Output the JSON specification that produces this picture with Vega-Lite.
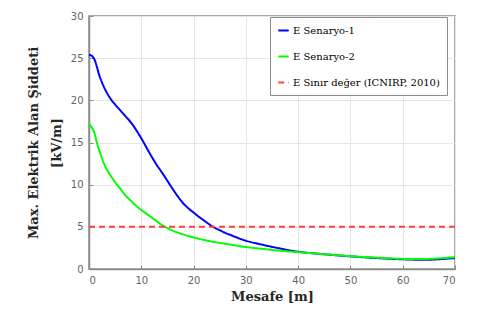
{
  "$schema": "https://vega.github.io/schema/vega-lite/v6.json",
  "width": 366,
  "height": 253,
  "autosize": {"type": "none"},
  "padding": {"left": 89, "top": 16, "right": 22, "bottom": 56},
  "background": "white",
  "config": {
    "view": {"stroke": "#8c8c8c", "strokeWidth": 1.5},
    "axis": {
      "labelFont": "DejaVu Sans",
      "labelFontSize": 10,
      "labelColor": "#666666",
      "titleFont": "DejaVu Serif",
      "titleFontSize": 13,
      "titleFontWeight": "bold",
      "titleColor": "#262626",
      "gridColor": "#e6e6e6",
      "gridWidth": 1,
      "domainColor": "#8c8c8c",
      "domainWidth": 1.5,
      "tickColor": "#8c8c8c",
      "tickSize": -4
    }
  },
  "data": {
    "values": [
      {"x": 0, "E": 25.4, "s": "E Senaryo-1"},
      {"x": 0.5, "E": 25.3, "s": "E Senaryo-1"},
      {"x": 1, "E": 24.9, "s": "E Senaryo-1"},
      {"x": 1.5, "E": 24.0, "s": "E Senaryo-1"},
      {"x": 2, "E": 22.9, "s": "E Senaryo-1"},
      {"x": 3, "E": 21.4, "s": "E Senaryo-1"},
      {"x": 4, "E": 20.3, "s": "E Senaryo-1"},
      {"x": 5, "E": 19.5, "s": "E Senaryo-1"},
      {"x": 6, "E": 18.8, "s": "E Senaryo-1"},
      {"x": 7, "E": 18.1, "s": "E Senaryo-1"},
      {"x": 8, "E": 17.4, "s": "E Senaryo-1"},
      {"x": 9, "E": 16.5, "s": "E Senaryo-1"},
      {"x": 10, "E": 15.5, "s": "E Senaryo-1"},
      {"x": 11, "E": 14.4, "s": "E Senaryo-1"},
      {"x": 12, "E": 13.3, "s": "E Senaryo-1"},
      {"x": 13, "E": 12.3, "s": "E Senaryo-1"},
      {"x": 14, "E": 11.4, "s": "E Senaryo-1"},
      {"x": 15, "E": 10.45, "s": "E Senaryo-1"},
      {"x": 16, "E": 9.5, "s": "E Senaryo-1"},
      {"x": 17, "E": 8.6, "s": "E Senaryo-1"},
      {"x": 18, "E": 7.8, "s": "E Senaryo-1"},
      {"x": 19, "E": 7.2, "s": "E Senaryo-1"},
      {"x": 20, "E": 6.7, "s": "E Senaryo-1"},
      {"x": 21, "E": 6.2, "s": "E Senaryo-1"},
      {"x": 22, "E": 5.75, "s": "E Senaryo-1"},
      {"x": 23, "E": 5.3, "s": "E Senaryo-1"},
      {"x": 24, "E": 4.9, "s": "E Senaryo-1"},
      {"x": 25, "E": 4.6, "s": "E Senaryo-1"},
      {"x": 26, "E": 4.3, "s": "E Senaryo-1"},
      {"x": 27, "E": 4.05, "s": "E Senaryo-1"},
      {"x": 28, "E": 3.8, "s": "E Senaryo-1"},
      {"x": 30, "E": 3.35, "s": "E Senaryo-1"},
      {"x": 33, "E": 2.9, "s": "E Senaryo-1"},
      {"x": 36, "E": 2.5, "s": "E Senaryo-1"},
      {"x": 40, "E": 2.05, "s": "E Senaryo-1"},
      {"x": 45, "E": 1.75, "s": "E Senaryo-1"},
      {"x": 50, "E": 1.5, "s": "E Senaryo-1"},
      {"x": 55, "E": 1.3, "s": "E Senaryo-1"},
      {"x": 60, "E": 1.15, "s": "E Senaryo-1"},
      {"x": 65, "E": 1.1, "s": "E Senaryo-1"},
      {"x": 70, "E": 1.3, "s": "E Senaryo-1"},
      {"x": 0, "E": 17.2, "s": "E Senaryo-2"},
      {"x": 0.5, "E": 16.8, "s": "E Senaryo-2"},
      {"x": 1, "E": 16.2, "s": "E Senaryo-2"},
      {"x": 1.5, "E": 15.0, "s": "E Senaryo-2"},
      {"x": 2, "E": 14.0, "s": "E Senaryo-2"},
      {"x": 3, "E": 12.3, "s": "E Senaryo-2"},
      {"x": 4, "E": 11.2, "s": "E Senaryo-2"},
      {"x": 5, "E": 10.3, "s": "E Senaryo-2"},
      {"x": 6, "E": 9.5, "s": "E Senaryo-2"},
      {"x": 7, "E": 8.7, "s": "E Senaryo-2"},
      {"x": 8, "E": 8.1, "s": "E Senaryo-2"},
      {"x": 9, "E": 7.5, "s": "E Senaryo-2"},
      {"x": 10, "E": 7.0, "s": "E Senaryo-2"},
      {"x": 11, "E": 6.55, "s": "E Senaryo-2"},
      {"x": 12, "E": 6.1, "s": "E Senaryo-2"},
      {"x": 13, "E": 5.65, "s": "E Senaryo-2"},
      {"x": 14, "E": 5.2, "s": "E Senaryo-2"},
      {"x": 15, "E": 4.85, "s": "E Senaryo-2"},
      {"x": 16, "E": 4.55, "s": "E Senaryo-2"},
      {"x": 18, "E": 4.1, "s": "E Senaryo-2"},
      {"x": 20, "E": 3.75, "s": "E Senaryo-2"},
      {"x": 22, "E": 3.45, "s": "E Senaryo-2"},
      {"x": 24, "E": 3.2, "s": "E Senaryo-2"},
      {"x": 27, "E": 2.9, "s": "E Senaryo-2"},
      {"x": 30, "E": 2.6, "s": "E Senaryo-2"},
      {"x": 33, "E": 2.4, "s": "E Senaryo-2"},
      {"x": 36, "E": 2.2, "s": "E Senaryo-2"},
      {"x": 40, "E": 2.0, "s": "E Senaryo-2"},
      {"x": 45, "E": 1.75, "s": "E Senaryo-2"},
      {"x": 50, "E": 1.52, "s": "E Senaryo-2"},
      {"x": 55, "E": 1.35, "s": "E Senaryo-2"},
      {"x": 60, "E": 1.2, "s": "E Senaryo-2"},
      {"x": 65, "E": 1.2, "s": "E Senaryo-2"},
      {"x": 70, "E": 1.4, "s": "E Senaryo-2"},
      {"x": 0, "E": 5, "s": "E Sınır değer (ICNIRP, 2010)"},
      {"x": 70, "E": 5, "s": "E Sınır değer (ICNIRP, 2010)"}
    ]
  },
  "mark": {"type": "line", "strokeWidth": 2, "interpolate": "catmull-rom"},
  "encoding": {
    "x": {
      "field": "x",
      "type": "quantitative",
      "scale": {"domain": [0, 70], "nice": false},
      "axis": {"values": [0, 10, 20, 30, 40, 50, 60, 70], "title": "Mesafe [m]", "titlePadding": 5, "labelPadding": 10}
    },
    "y": {
      "field": "E",
      "type": "quantitative",
      "scale": {"domain": [0, 30], "nice": false},
      "axis": {"values": [0, 5, 10, 15, 20, 25, 30], "title": ["Max. Elektrik Alan Şiddeti", "[kV/m]"], "titleLineHeight": 23, "titlePadding": 7, "labelPadding": 10}
    },
    "color": {
      "field": "s",
      "type": "nominal",
      "scale": {
        "domain": ["E Senaryo-1", "E Senaryo-2", "E Sınır değer (ICNIRP, 2010)"],
        "range": ["#0000ff", "#00ff00", "#ff4040"]
      },
      "legend": {
        "title": null,
        "orient": "none",
        "legendX": 181,
        "legendY": 1,
        "symbolType": "stroke",
        "symbolSize": 110,
        "symbolStrokeWidth": 2,
        "labelFont": "DejaVu Serif",
        "labelFontSize": 10,
        "labelColor": "#000000",
        "labelOffset": 3,
        "rowPadding": 14,
        "padding": 7,
        "strokeColor": "#8c8c8c",
        "fillColor": "white",
        "labelLimit": 300
      }
    },
    "strokeDash": {
      "field": "s",
      "type": "nominal",
      "scale": {
        "domain": ["E Senaryo-1", "E Senaryo-2", "E Sınır değer (ICNIRP, 2010)"],
        "range": [[1, 0], [1, 0], [6, 4]]
      },
      "legend": null
    }
  }
}
